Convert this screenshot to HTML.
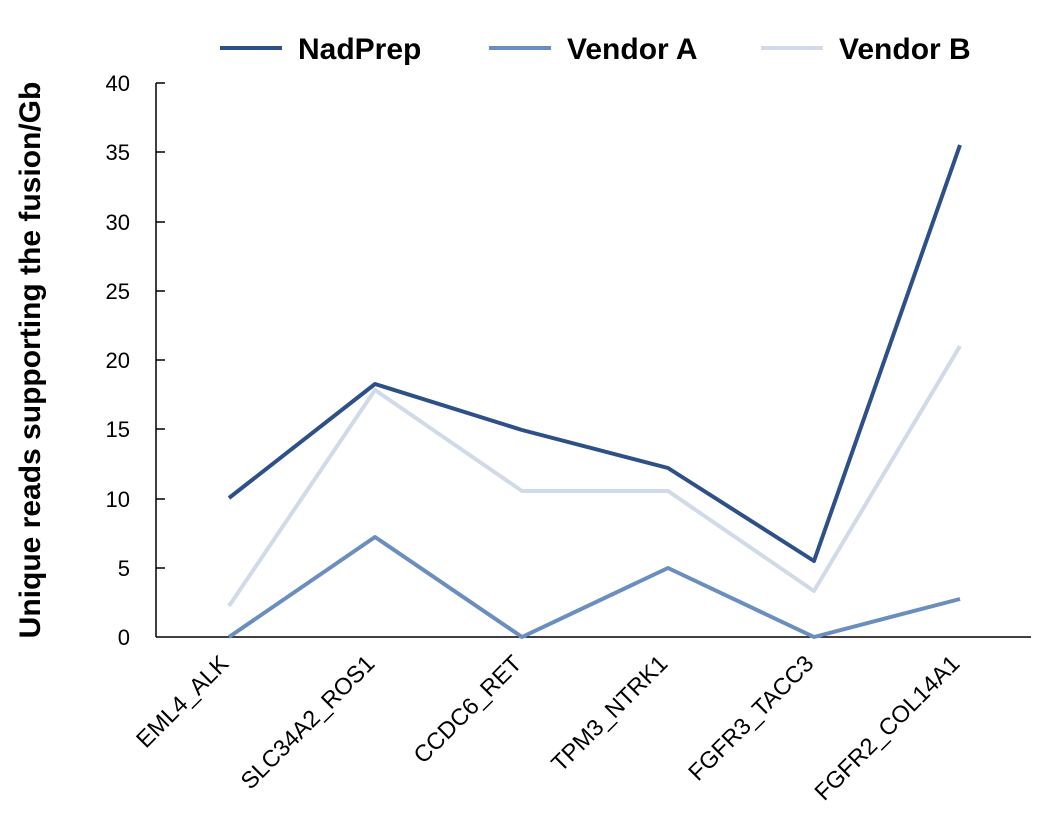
<!DOCTYPE html>
<html><head><style>body{margin:0;background:#fff}svg{display:block}text{font-family:"Liberation Sans","Noto Sans CJK SC",sans-serif}</style></head><body>
<svg width="1046" height="827" viewBox="0 0 1046 827">
<g stroke="#000" stroke-width="1.5">
<line x1="156" y1="83" x2="156" y2="637"/>
<line x1="156" y1="637" x2="1031" y2="637"/>
<line x1="156" y1="83" x2="165" y2="83"/><line x1="156" y1="152" x2="165" y2="152"/><line x1="156" y1="222" x2="165" y2="222"/><line x1="156" y1="291" x2="165" y2="291"/><line x1="156" y1="360" x2="165" y2="360"/><line x1="156" y1="429" x2="165" y2="429"/><line x1="156" y1="499" x2="165" y2="499"/><line x1="156" y1="568" x2="165" y2="568"/>
</g>
<g font-size="22" text-anchor="end" fill="#000">
<text x="130" y="91">40</text><text x="130" y="160">35</text><text x="130" y="230">30</text><text x="130" y="299">25</text><text x="130" y="368">20</text><text x="130" y="437">15</text><text x="130" y="507">10</text><text x="130" y="576">5</text><text x="130" y="645">0</text>
</g>
<text transform="translate(40,360) rotate(-90)" font-size="30" font-weight="bold" text-anchor="middle">Unique reads supporting the fusion/Gb</text>
<g font-size="23.5" text-anchor="end">
<text transform="translate(230,665) rotate(-45)">EML4_ALK</text>
<text transform="translate(376,665) rotate(-45)">SLC34A2_ROS1</text>
<text transform="translate(523,665) rotate(-45)">CCDC6_RET</text>
<text transform="translate(669,665) rotate(-45)">TPM3_NTRK1</text>
<text transform="translate(815,665) rotate(-45)">FGFR3_TACC3</text>
<text transform="translate(961,665) rotate(-45)">FGFR2_COL14A1</text>
</g>
<g fill="none" stroke-width="4" stroke-linejoin="round">
<polyline stroke="#d0dae8" points="229,606 375,390 522,491 668,491 814,591 960,346"/>
<polyline stroke="#6a8ebe" points="229,637 375,537 522,637 668,568 814,637 960,599"/>
<polyline stroke="#2e5089" points="229,498 375,384 522,430 668,468 814,561 960,145"/>
</g>
<g stroke-width="4">
<line x1="220" y1="48" x2="282" y2="48" stroke="#2e5089"/>
<line x1="489" y1="48" x2="551" y2="48" stroke="#6a8ebe"/>
<line x1="761" y1="48" x2="823" y2="48" stroke="#d0dae8"/>
</g>
<g font-size="30" font-weight="bold">
<text x="298" y="59">NadPrep</text><text x="567" y="59">Vendor A</text><text x="839" y="59">Vendor B</text>
</g>
</svg>
</body></html>
